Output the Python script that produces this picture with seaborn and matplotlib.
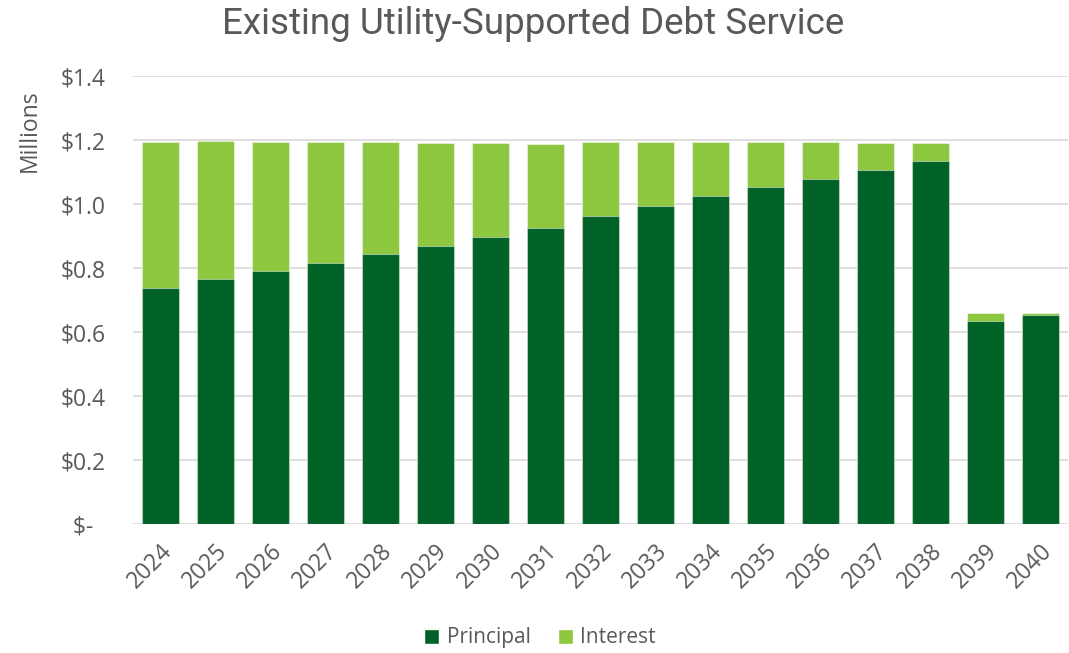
import matplotlib
matplotlib.use("Agg")
import matplotlib.pyplot as plt
from matplotlib.ticker import FuncFormatter
from matplotlib.patches import Patch
import numpy as np
import pandas as pd
import seaborn as sns

# Debt service by fiscal year, in millions of dollars
years = ["2024", "2025", "2026", "2027", "2028", "2029", "2030", "2031", "2032",
         "2033", "2034", "2035", "2036", "2037", "2038", "2039", "2040"]
principal = [0.739, 0.766, 0.790, 0.815, 0.843, 0.868, 0.897, 0.926, 0.962,
             0.993, 1.024, 1.053, 1.079, 1.108, 1.136, 0.636, 0.653]
interest = [0.454, 0.432, 0.403, 0.379, 0.352, 0.322, 0.294, 0.263, 0.232,
            0.200, 0.171, 0.141, 0.115, 0.083, 0.055, 0.024, 0.007]

PRINCIPAL_COLOR = "#006227"
INTEREST_COLOR = "#8DC63F"
TEXT_COLOR = "#595959"

df = pd.DataFrame({"year": years, "principal": principal, "interest": interest})
df["total"] = df["principal"] + df["interest"]

sns.set_theme(style="white")
plt.rcParams["font.family"] = ["Open Sans", "DejaVu Sans"]

fig = plt.figure(figsize=(10.69, 6.53), dpi=100)
ax = fig.add_axes([0.1245, 0.197, 0.8745, 0.6865])

edge = (1, 1, 1, 0.45)
# Full stack height in the interest colour, principal drawn over it
sns.barplot(data=df, x="year", y="total", color=INTEREST_COLOR, width=0.67,
            saturation=1, edgecolor=edge, linewidth=0.8, ax=ax, zorder=2)
sns.barplot(data=df, x="year", y="principal", color=PRINCIPAL_COLOR, width=0.67,
            saturation=1, edgecolor=edge, linewidth=0.8, ax=ax, zorder=3)

ax.set_ylim(0, 1.4)
ax.set_xlim(-0.5, len(years) - 0.5)
ax.set_yticks(np.arange(0, 1.41, 0.2))


def money(v, _):
    if abs(v) < 1e-9:
        return "$-  "
    return f"${v:.1f}"


ax.yaxis.set_major_formatter(FuncFormatter(money))
ax.grid(axis="y", color="#D9D9D9", linewidth=1.2, zorder=0)
ax.set_axisbelow(True)
for s in ax.spines.values():
    s.set_visible(False)

ax.tick_params(axis="y", length=0, pad=20, labelsize=16.5, labelcolor=TEXT_COLOR)
ax.tick_params(axis="x", length=0, pad=11, labelsize=16.5, labelcolor=TEXT_COLOR)
for lbl in ax.get_xticklabels():
    lbl.set_rotation(45)
    lbl.set_ha("right")
    lbl.set_va("top")
    lbl.set_rotation_mode("anchor")

ax.set_xlabel("")
ax.set_ylabel("")
fig.text(0.028, 0.80, "Millions", rotation=90, ha="center", va="center",
         fontsize=16.5, color=TEXT_COLOR)

fig.text(0.499, 0.963, "Existing Utility-Supported Debt Service", ha="center",
         va="center", fontsize=26.5, color=TEXT_COLOR,
         family=["Roboto", "DejaVu Sans"])

handles = [Patch(facecolor=PRINCIPAL_COLOR, label="Principal"),
           Patch(facecolor=INTEREST_COLOR, label="Interest")]
leg = fig.legend(handles=handles, loc="center", bbox_to_anchor=(0.505, 0.023),
                 ncol=2, frameon=False, fontsize=15, handlelength=0.75,
                 handleheight=0.75, handletextpad=0.35, columnspacing=1.3)
for t in leg.get_texts():
    t.set_color(TEXT_COLOR)

fig.savefig("out.png", dpi=100, facecolor="white")
